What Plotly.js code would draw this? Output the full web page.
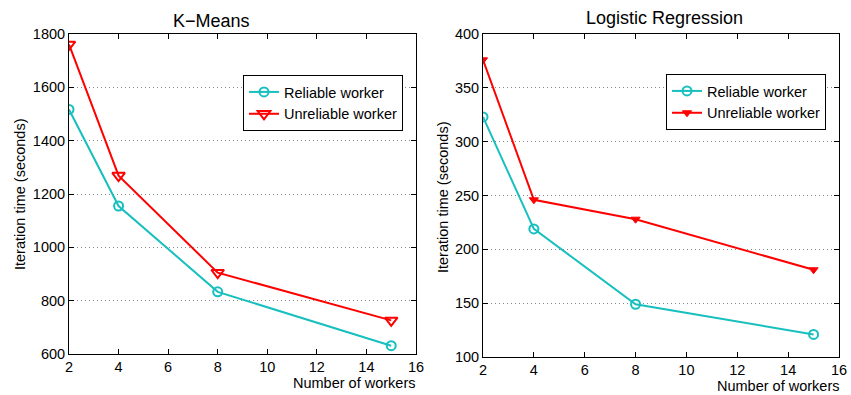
<!DOCTYPE html>
<html>
<head>
<meta charset="utf-8">
<script src="https://cdn.plot.ly/plotly-3.0.1.min.js"></script>
<style>html,body{margin:0;padding:0;background:#fff;} #chart{width:851px;height:395px;}</style>
</head>
<body>
<div id="chart"></div>
<script>
const workers = [2, 4, 8, 15];
const kmeansReliable = [1517, 1155, 833, 631];
const kmeansUnreliable = [1761, 1269, 905, 726];
const logregReliable = [323, 219, 149, 121];
const logregUnreliable = [376, 246, 228, 181];
const seriesNames = ["Reliable worker", "Unreliable worker"];
const titles = ["K\u2212Means", "Logistic Regression"];
const xTitle = "Number of workers";
const yTitle = "Iteration time (seconds)";

const W = 851, H = 395, T = 34, B = 38;
const PH = H - T - B;
const px = x => x / W;
const py = y => (H - B - y) / PH;

const cyan = '#17BFBF', red = '#FF0000';
const font = 'Liberation Sans, Arial, Helvetica, sans-serif';

const traces = [
  {x: workers, y: kmeansReliable, name: seriesNames[0], xaxis: 'x', yaxis: 'y', legend: 'legend',
   mode: 'lines+markers', line: {color: cyan, width: 2}, marker: {symbol: 'circle-open', size: 9, color: cyan, line: {width: 2}}},
  {x: workers, y: kmeansUnreliable, name: seriesNames[1], xaxis: 'x', yaxis: 'y', legend: 'legend',
   mode: 'lines+markers', line: {color: red, width: 2}, marker: {symbol: 'triangle-down-open', size: 11, color: red, line: {width: 2}}},
  {x: workers, y: logregReliable, name: seriesNames[0], xaxis: 'x2', yaxis: 'y2', legend: 'legend2',
   mode: 'lines+markers', line: {color: cyan, width: 2}, marker: {symbol: 'circle-open', size: 9, color: cyan, line: {width: 2}}},
  {x: workers, y: logregUnreliable, name: seriesNames[1], xaxis: 'x2', yaxis: 'y2', legend: 'legend2',
   mode: 'lines+markers', line: {color: red, width: 2}, marker: {symbol: 'triangle-down', size: 8, color: red, line: {width: 1, color: red}}}
];

const axBase = {
  showline: true, linecolor: '#000', linewidth: 1, mirror: 'ticks',
  ticks: 'inside', ticklen: 5, tickcolor: '#000', tickwidth: 1,
  tickfont: {family: font, size: 14.5, color: '#000'}, zeroline: false, fixedrange: true
};
const xBase = Object.assign({}, axBase, {range: [2, 16], dtick: 2, tick0: 2, showgrid: false});
const yGrid = {showgrid: true, gridcolor: '#888', griddash: '1px,3px', gridwidth: 1};

const legBase = {
  font: {family: font, size: 14.5, color: '#000'}, bgcolor: '#fff', bordercolor: '#000', borderwidth: 1,
  xanchor: 'left', yanchor: 'top', itemwidth: 30, tracegroupgap: 0
};

const ann = (text, x, y, opts) => Object.assign({text, xref: 'paper', yref: 'paper', x: px(x), y: py(y),
  showarrow: false, font: {family: font, size: 14.5, color: '#000'}, xanchor: 'center', yanchor: 'middle'}, opts || {});

const layout = {
  width: W, height: H, margin: {l: 0, r: 0, t: T, b: B},
  paper_bgcolor: '#fff', plot_bgcolor: '#fff', showlegend: true,
  xaxis: Object.assign({}, xBase, {domain: [px(69), px(416)], anchor: 'y'}),
  yaxis: Object.assign({}, axBase, yGrid, {domain: [3 / PH, 1], range: [600, 1800], dtick: 200, anchor: 'x'}),
  xaxis2: Object.assign({}, xBase, {domain: [px(483), px(839)], anchor: 'y2'}),
  yaxis2: Object.assign({}, axBase, yGrid, {domain: [0, 1], range: [100, 400], dtick: 50, anchor: 'x2'}),
  legend: Object.assign({}, legBase, {x: px(243), y: py(75)}),
  legend2: Object.assign({}, legBase, {x: px(666), y: py(74)}),
  annotations: [
    ann(titles[0], 211, 21, {font: {family: font, size: 18, color: '#000'}}),
    ann(titles[1], 664, 18, {font: {family: font, size: 18, color: '#000'}}),
    ann(xTitle, 417, 383, {xanchor: 'right'}),
    ann(xTitle, 841, 386, {xanchor: 'right'}),
    ann(yTitle, 20, 194, {textangle: -90}),
    ann(yTitle, 443, 197, {textangle: -90})
  ]
};

Plotly.newPlot('chart', traces, layout, {displayModeBar: false, staticPlot: true});
</script>
</body>
</html>
